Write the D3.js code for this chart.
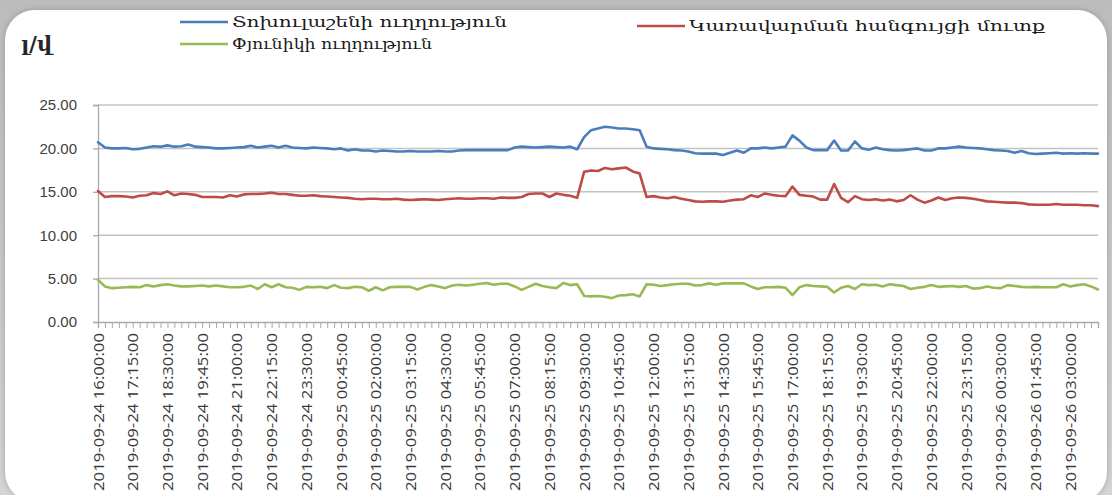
<!DOCTYPE html>
<html>
<head>
<meta charset="utf-8">
<script src="https://cdn.jsdelivr.net/npm/d3@7"></script>
<style>
  html, body { margin: 0; padding: 0; background: #c4c4c4; }
  svg { display: block; }
</style>
</head>
<body>
<svg id="chart" width="1112" height="495"></svg>
<script>
// ---------------- DATA ----------------
const startTime = "2019-09-24 16:00:00";
const stepMinutes = 15;
const pointCount = 145;

const tickLabels = [
  "2019-09-24 16:00:00","2019-09-24 17:15:00","2019-09-24 18:30:00","2019-09-24 19:45:00",
  "2019-09-24 21:00:00","2019-09-24 22:15:00","2019-09-24 23:30:00","2019-09-25 00:45:00",
  "2019-09-25 02:00:00","2019-09-25 03:15:00","2019-09-25 04:30:00","2019-09-25 05:45:00",
  "2019-09-25 07:00:00","2019-09-25 08:15:00","2019-09-25 09:30:00","2019-09-25 10:45:00",
  "2019-09-25 12:00:00","2019-09-25 13:15:00","2019-09-25 14:30:00","2019-09-25 15:45:00",
  "2019-09-25 17:00:00","2019-09-25 18:15:00","2019-09-25 19:30:00","2019-09-25 20:45:00",
  "2019-09-25 22:00:00","2019-09-25 23:15:00","2019-09-26 00:30:00","2019-09-26 01:45:00",
  "2019-09-26 03:00:00"
];

const seriesNames = [
  "Տոխուլաշենի ուղղություն",
  "Կառավարման հանգույցի մուտք",
  "Փյունիկի ուղղություն"
];

const tokhValues = [
  20.7,20.1,20.0,20.0,20.05,19.9,19.95,20.1,20.25,20.2,
  20.35,20.2,20.25,20.45,20.2,20.15,20.1,20.0,20.0,20.05,
  20.1,20.15,20.3,20.1,20.2,20.3,20.1,20.3,20.1,20.05,
  20.0,20.1,20.05,20.0,19.9,20.0,19.75,19.9,19.75,19.75,
  19.65,19.75,19.7,19.65,19.65,19.7,19.65,19.65,19.65,19.7,
  19.65,19.65,19.75,19.8,19.8,19.8,19.8,19.8,19.8,19.8,
  20.1,20.2,20.15,20.1,20.15,20.2,20.15,20.1,20.2,19.9,
  21.3,22.1,22.3,22.5,22.4,22.3,22.3,22.2,22.1,20.2,
  20.0,19.95,19.9,19.8,19.75,19.65,19.45,19.4,19.4,19.4,
  19.25,19.5,19.75,19.5,20.0,20.0,20.1,20.0,20.1,20.2,
  21.5,20.9,20.1,19.8,19.8,19.8,20.9,19.75,19.75,20.8,
  20.0,19.85,20.1,19.9,19.8,19.75,19.8,19.9,20.0,19.75,
  19.75,20.0,20.0,20.1,20.2,20.1,20.05,20.0,19.9,19.8,
  19.75,19.7,19.5,19.7,19.45,19.35,19.4,19.45,19.5,19.4,
  19.45,19.4,19.45,19.4,19.4
];

const controlValues = [
  15.1,14.4,14.5,14.5,14.45,14.35,14.55,14.6,14.85,14.75,
  15.05,14.6,14.8,14.75,14.65,14.4,14.4,14.4,14.35,14.6,
  14.45,14.7,14.75,14.75,14.8,14.9,14.75,14.75,14.65,14.55,
  14.55,14.6,14.5,14.45,14.4,14.35,14.3,14.2,14.15,14.2,
  14.2,14.15,14.15,14.2,14.1,14.05,14.1,14.15,14.1,14.05,
  14.15,14.2,14.25,14.2,14.2,14.25,14.25,14.2,14.35,14.3,
  14.3,14.4,14.75,14.8,14.8,14.4,14.8,14.65,14.55,14.3,
  17.3,17.45,17.4,17.75,17.6,17.7,17.8,17.35,17.1,14.4,
  14.5,14.35,14.25,14.4,14.2,14.05,13.9,13.85,13.9,13.9,
  13.85,14.0,14.1,14.15,14.6,14.4,14.8,14.65,14.55,14.5,
  15.6,14.65,14.55,14.45,14.1,14.1,15.9,14.3,13.8,14.5,
  14.15,14.05,14.15,14.0,14.1,13.9,14.05,14.6,14.1,13.75,
  14.0,14.35,14.05,14.25,14.35,14.3,14.2,14.05,13.9,13.85,
  13.8,13.75,13.75,13.7,13.55,13.5,13.5,13.5,13.6,13.5,
  13.5,13.5,13.45,13.45,13.35
];

const pyunikValues = [
  4.85,4.1,3.9,3.95,4.0,4.05,4.0,4.25,4.1,4.25,
  4.35,4.2,4.1,4.1,4.15,4.2,4.1,4.2,4.1,4.0,
  4.0,4.05,4.2,3.8,4.35,4.0,4.35,4.0,3.95,3.7,
  4.05,4.0,4.05,3.9,4.25,3.95,3.9,4.05,4.0,3.6,
  4.0,3.65,4.0,4.05,4.05,4.05,3.75,4.05,4.25,4.1,
  3.9,4.2,4.3,4.2,4.3,4.4,4.5,4.3,4.4,4.4,
  4.1,3.7,4.05,4.4,4.15,4.0,3.9,4.5,4.25,4.35,
  3.0,2.95,3.0,2.9,2.75,3.05,3.1,3.2,2.95,4.35,
  4.3,4.15,4.25,4.35,4.4,4.4,4.2,4.25,4.45,4.3,
  4.45,4.45,4.45,4.45,4.1,3.8,4.0,4.0,4.05,3.95,
  3.1,4.0,4.25,4.15,4.1,4.05,3.4,3.95,4.15,3.8,
  4.35,4.25,4.3,4.1,4.35,4.25,4.15,3.8,3.95,4.05,
  4.25,4.05,4.1,4.15,4.05,4.15,3.85,3.9,4.1,3.95,
  3.9,4.25,4.15,4.05,4.0,4.05,4.0,4.0,4.0,4.35,
  4.1,4.25,4.35,4.1,3.75
];

const yTicks = [0, 5, 10, 15, 20, 25];
const yTitle = "լ/վ";
const colors = ["#4a7ebb", "#be4b48", "#98b954"];

// category labels (15-minute timestamps)
const parseT = d3.timeParse("%Y-%m-%d %H:%M:%S");
const fmtT = d3.timeFormat("%Y-%m-%d %H:%M:%S");
const t0 = parseT(startTime);
const categories = d3.range(pointCount).map(i => fmtT(d3.timeMinute.offset(t0, i * stepMinutes)));

// ---------------- DRAW ----------------
const svg = d3.select("#chart");

const defs = svg.append("defs");
const bg = defs.append("linearGradient").attr("id", "bg").attr("x1", 0).attr("y1", 0).attr("x2", 0).attr("y2", 1);
bg.append("stop").attr("offset", "0%").attr("stop-color", "#bcbcbc");
bg.append("stop").attr("offset", "100%").attr("stop-color", "#d6d6d6");
const f = defs.append("filter").attr("id", "shadow").attr("x", "-5%").attr("y", "-10%").attr("width", "110%").attr("height", "120%");
f.append("feDropShadow").attr("dx", 0).attr("dy", 0).attr("stdDeviation", 3).attr("flood-color", "#7a7a7a").attr("flood-opacity", 0.6);

svg.append("rect").attr("width", 1112).attr("height", 495).attr("fill", "url(#bg)");
svg.append("rect")
  .attr("x", 5).attr("y", 10).attr("width", 1102).attr("height", 492)
  .attr("rx", 30).attr("ry", 30)
  .attr("fill", "#ffffff")
  .attr("filter", "url(#shadow)");

const x = d3.scalePoint().domain(categories).range([98, 1098]);
const y = d3.scaleLinear().domain([0, 25]).range([322, 105]);

// gridlines
svg.append("g").selectAll("line")
  .data(yTicks.filter(d => d > 0))
  .join("line")
  .attr("x1", 98).attr("x2", 1098)
  .attr("y1", d => y(d)).attr("y2", d => y(d))
  .attr("stroke", "#c3c3c3").attr("stroke-width", 1.5);

// y axis
const yAxis = svg.append("g")
  .attr("transform", "translate(98,0)")
  .call(d3.axisLeft(y).tickValues(yTicks).tickFormat(d3.format(".2f")).tickSize(5).tickPadding(16));
yAxis.select(".domain").attr("stroke", "#a9a9a9").attr("stroke-width", 1.3);
yAxis.selectAll(".tick line").attr("stroke", "#a9a9a9").attr("stroke-width", 1.3);
yAxis.selectAll(".tick text")
  .attr("font-family", "Liberation Sans, Arial, sans-serif")
  .attr("font-size", 15).attr("fill", "#404040");

// x axis minor ticks (every category)
const xTicks = svg.append("g")
  .attr("transform", "translate(0,322)")
  .call(d3.axisBottom(x).tickValues(categories).tickSize(6).tickFormat(""));
xTicks.select(".domain").attr("stroke", "#a9a9a9").attr("stroke-width", 1.3);
xTicks.selectAll(".tick line").attr("stroke", "#a9a9a9").attr("stroke-width", 1);

// x axis labels
const xLab = svg.append("g")
  .attr("transform", "translate(0,322)")
  .call(d3.axisBottom(x).tickValues(tickLabels).tickSize(0));
xLab.select(".domain").remove();
xLab.selectAll(".tick text")
  .attr("transform", "rotate(-90)")
  .attr("x", -11).attr("y", 0).attr("dy", "0.36em")
  .attr("text-anchor", "end")
  .attr("font-family", "Open Sans, sans-serif")
  .attr("font-size", 14).attr("fill", "#3a3a3a")
  .attr("textLength", 158).attr("lengthAdjust", "spacingAndGlyphs");

// lines
const line = d3.line().x((d, i) => x(categories[i])).y(d => y(d));
[tokhValues, controlValues, pyunikValues].forEach((vals, k) => {
  svg.append("path")
    .datum(vals)
    .attr("d", line)
    .attr("fill", "none")
    .attr("stroke", colors[k])
    .attr("stroke-width", 2.6)
    .attr("stroke-linejoin", "round")
    .attr("stroke-linecap", "round");
});

// y title
svg.append("text")
  .attr("x", 21).attr("y", 51)
  .attr("font-family", "DejaVu Serif, serif")
  .attr("font-weight", "bold")
  .attr("font-size", 21)
  .attr("fill", "#262626")
  .text(yTitle);

// legend
const legendItems = [
  { name: seriesNames[0], color: colors[0], x: 180, y: 22, w: 275 },
  { name: seriesNames[1], color: colors[1], x: 637, y: 26, w: 356 },
  { name: seriesNames[2], color: colors[2], x: 180, y: 44, w: 200 }
];
const lg = svg.append("g");
legendItems.forEach(it => {
  lg.append("line")
    .attr("x1", it.x).attr("x2", it.x + 48)
    .attr("y1", it.y).attr("y2", it.y)
    .attr("stroke", it.color).attr("stroke-width", 2.6);
  lg.append("text")
    .attr("x", it.x + 52).attr("y", it.y)
    .attr("dy", "0.33em")
    .attr("font-family", "DejaVu Serif, serif")
    .attr("font-size", 15)
    .attr("fill", "#1a1a1a")
    .attr("textLength", it.w).attr("lengthAdjust", "spacingAndGlyphs")
    .text(it.name);
});
</script>
</body>
</html>
